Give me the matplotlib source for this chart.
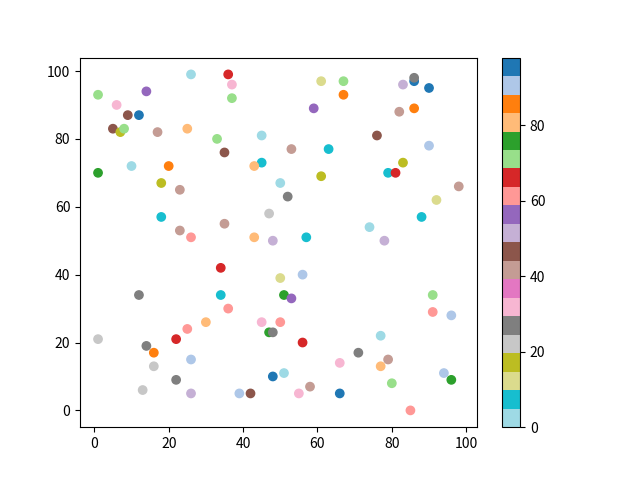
import matplotlib
matplotlib.use('Agg')
import matplotlib.pyplot as plt

plt.rcParams['font.family'] = ['Noto Sans CJK SC', 'DejaVu Sans']

# points: x, y, colour value
x = [26, 36, 37, 37, 1, 6, 14, 5, 9, 12, 7, 8, 17, 25, 1, 10, 20, 18, 23, 18,
     23, 26, 33, 35, 45, 45, 43, 50, 53, 52, 47, 35, 43, 48, 57, 61, 67, 67, 59, 63,
     61, 74, 78, 83, 86, 86, 90, 82, 86, 76, 90, 83, 79, 81, 92, 98, 88, 34, 34, 12,
     1, 14, 16, 16, 13, 22, 26, 22, 25, 30, 26, 36, 50, 56, 51, 53, 45, 50, 47, 48,
     56, 48, 51, 39, 42, 55, 58, 66, 66, 71, 77, 79, 77, 80, 85, 91, 91, 96, 94, 96]
y = [99, 99, 96, 92, 93, 90, 94, 83, 87, 87, 82, 83, 82, 83, 70, 72, 72, 67, 65, 57,
     53, 51, 80, 76, 81, 73, 72, 67, 77, 63, 58, 55, 51, 50, 51, 97, 97, 93, 89, 77,
     69, 54, 50, 96, 97, 98, 95, 88, 89, 81, 78, 73, 70, 70, 62, 66, 57, 42, 34, 34,
     21, 19, 17, 13, 6, 9, 5, 21, 24, 26, 15, 30, 39, 40, 34, 33, 26, 26, 23, 23,
     20, 10, 11, 5, 5, 5, 7, 5, 14, 17, 22, 15, 13, 8, 0, 34, 29, 28, 11, 9]
c = [0, 66, 31, 70, 70, 31, 56, 46, 46, 95, 17, 70, 41, 80, 75, 2, 85, 17, 41, 7,
     41, 61, 70, 46, 2, 7, 80, 2, 41, 27, 22, 41, 80, 51, 7, 12, 70, 85, 56, 7,
     17, 2, 51, 51, 95, 27, 98, 41, 85, 46, 90, 17, 7, 66, 12, 41, 7, 66, 7, 27,
     22, 27, 85, 22, 22, 27, 51, 66, 61, 80, 90, 61, 12, 90, 75, 56, 31, 61, 75, 27,
     66, 95, 2, 90, 46, 31, 41, 95, 31, 27, 2, 41, 80, 70, 61, 70, 61, 90, 90, 75]

fig = plt.figure()
sc = plt.scatter(x, y, c=c, cmap='tab20_r')
plt.colorbar(sc)
plt.savefig('out.png')
